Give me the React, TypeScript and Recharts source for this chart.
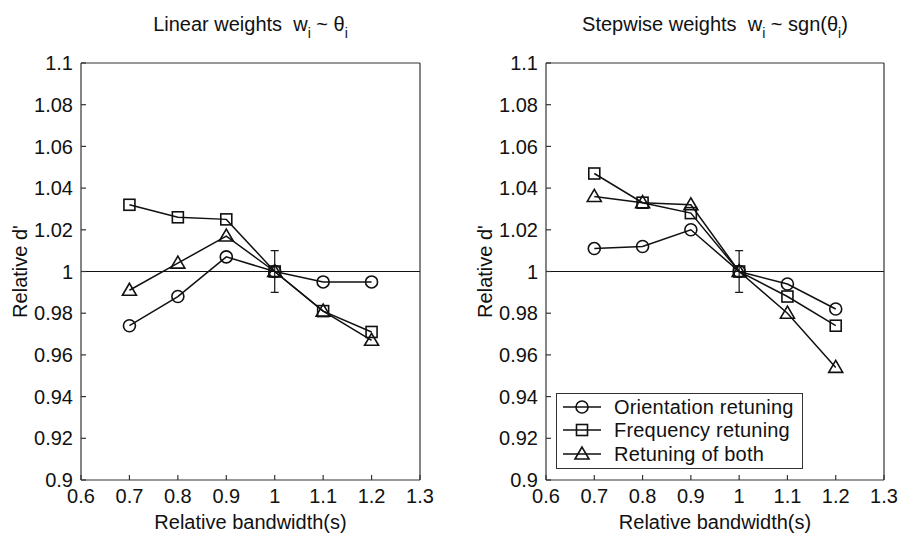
import { ComposedChart, Line, Scatter, ErrorBar, XAxis, YAxis, ReferenceLine, Legend } from "recharts";

const bandwidths = [0.7, 0.8, 0.9, 1.0, 1.1, 1.2];

const linearOrientation = [0.974, 0.988, 1.007, 1.0, 0.995, 0.995];
const linearFrequency = [1.032, 1.026, 1.025, 1.0, 0.981, 0.971];
const linearBoth = [0.991, 1.004, 1.017, 1.0, 0.981, 0.967];

const stepOrientation = [1.011, 1.012, 1.02, 1.0, 0.994, 0.982];
const stepFrequency = [1.047, 1.033, 1.028, 1.0, 0.988, 0.974];
const stepBoth = [1.036, 1.033, 1.032, 1.0, 0.98, 0.954];

const xTicks = [0.6, 0.7, 0.8, 0.9, 1, 1.1, 1.2, 1.3];
const yTicks = [0.9, 0.92, 0.94, 0.96, 0.98, 1, 1.02, 1.04, 1.06, 1.08, 1.1];

const errorPoint = [{ bw: 1, d: 1, err: 0.01 }];

const seriesNames = ["Orientation retuning", "Frequency retuning", "Retuning of both"];
const seriesKeys = ["orient", "freq", "both"];

const FONT = '"Liberation Sans", Arial, Helvetica, sans-serif';
const INK = "#111";
const AXIS = "#333";

const buildRows = (orient: number[], freq: number[], both: number[]) =>
  bandwidths.map((bw, i) => ({ bw, orient: orient[i], freq: freq[i], both: both[i] }));

function Marker({ kind, cx, cy }: { kind: string; cx: number; cy: number }) {
  if (cx == null || cy == null) return <g />;
  if (kind === "orient") {
    return <circle cx={cx} cy={cy} r={6} fill="none" stroke={INK} strokeWidth={1.6} />;
  }
  if (kind === "freq") {
    return <rect x={cx - 5.5} y={cy - 5.5} width={11} height={11} fill="none" stroke={INK} strokeWidth={1.6} />;
  }
  return (
    <polygon
      points={`${cx},${cy - 7} ${cx - 7},${cy + 5} ${cx + 7},${cy + 5}`}
      fill="none"
      stroke={INK}
      strokeWidth={1.6}
    />
  );
}

function LegendBox() {
  return (
    <div
      style={{
        border: `1px solid ${AXIS}`,
        background: "#fff",
        width: 245,
        height: 73,
        boxSizing: "content-box",
        fontFamily: FONT,
        fontSize: 20,
        color: INK,
        paddingTop: 1,
      }}
    >
      {seriesNames.map((name, i) => (
        <div key={name} style={{ display: "flex", alignItems: "center", height: 23.5 }}>
          <svg width={50} height={22} style={{ marginLeft: 4 }}>
            <line x1={2} y1={11} x2={40} y2={11} stroke={INK} strokeWidth={1.4} />
            <Marker kind={seriesKeys[i]} cx={21} cy={11} />
          </svg>
          <span style={{ marginLeft: 3, lineHeight: "22px", letterSpacing: 0.2 }}>{name}</span>
        </div>
      ))}
    </div>
  );
}

function Panel({
  left,
  width,
  margin,
  rows,
  title,
  showLegend,
}: {
  left: number;
  width: number;
  margin: { top: number; right: number; bottom: number; left: number };
  rows: { bw: number; orient: number; freq: number; both: number }[];
  title: React.ReactNode;
  showLegend?: boolean;
}) {
  const tickStyle = { fontSize: 20, fill: INK, fontFamily: FONT };
  return (
    <div style={{ position: "absolute", left, top: 0 }}>
      <ComposedChart width={width} height={534} data={rows} margin={margin}>
        <XAxis
          type="number"
          dataKey="bw"
          domain={[0.6, 1.3]}
          ticks={xTicks}
          tickFormatter={(v) => String(v)}
          height={50}
          tickSize={-5}
          tickMargin={14}
          stroke={AXIS}
          strokeWidth={1.2}
          tick={tickStyle}
          interval={0}
          label={{
            content: ({ viewBox }: any) => (
              <text
                x={viewBox.x + viewBox.width / 2}
                y={viewBox.y + 49}
                textAnchor="middle"
                fontSize={20}
                fontFamily={FONT}
                fill={INK}
              >
                Relative bandwidth(s)
              </text>
            ),
          }}
        />
        <XAxis
          xAxisId="top"
          orientation="top"
          type="number"
          dataKey="bw"
          domain={[0.6, 1.3]}
          ticks={xTicks}
          height={1}
          tickSize={-5}
          tick={false}
          stroke={AXIS}
          strokeWidth={1.2}
          interval={0}
          label={{
            content: ({ viewBox }: any) => (
              <text
                x={viewBox.x + viewBox.width / 2}
                y={viewBox.y - 31}
                textAnchor="middle"
                fontSize={20}
                fontFamily={FONT}
                fill={INK}
                style={{ whiteSpace: "pre" }}
              >
                {title}
              </text>
            ),
          }}
        />
        <YAxis
          type="number"
          domain={[0.9, 1.1]}
          ticks={yTicks}
          tickFormatter={(v) => String(v)}
          width={60}
          tickSize={-5}
          tickMargin={13}
          stroke={AXIS}
          strokeWidth={1.2}
          tick={tickStyle}
          interval={0}
          label={{
            content: ({ viewBox }: any) => {
              const cx = viewBox.x - 1;
              const cy = viewBox.y + viewBox.height / 2;
              return (
                <text
                  x={cx}
                  y={cy}
                  transform={`rotate(-90, ${cx}, ${cy})`}
                  textAnchor="middle"
                  dominantBaseline="central"
                  fontSize={20}
                  fontFamily={FONT}
                  fill={INK}
                >
                  Relative d'
                </text>
              );
            },
          }}
        />
        <YAxis
          yAxisId="right"
          orientation="right"
          type="number"
          domain={[0.9, 1.1]}
          ticks={yTicks}
          width={1}
          tickSize={-5}
          tick={false}
          stroke={AXIS}
          strokeWidth={1.2}
          interval={0}
        />
        <ReferenceLine y={1} stroke={INK} strokeWidth={1.1} />
        {seriesKeys.map((key, i) => (
          <Line
            key={key}
            dataKey={key}
            name={seriesNames[i]}
            stroke={INK}
            strokeWidth={1.5}
            isAnimationActive={false}
            dot={(p: any) => <Marker key={`${key}-${p.index}`} kind={key} cx={p.cx} cy={p.cy} />}
            activeDot={false}
          />
        ))}
        <Scatter
          data={errorPoint}
          dataKey="d"
          legendType="none"
          isAnimationActive={false}
          shape={() => <g />}
        >
          <ErrorBar dataKey="err" direction="y" width={4} stroke={INK} strokeWidth={1.2} />
        </Scatter>
        {showLegend && (
          <Legend
            layout="vertical"
            align="center"
            verticalAlign="middle"
            wrapperStyle={{ left: 106, top: 393, width: 247 }}
            content={() => <LegendBox />}
          />
        )}
      </ComposedChart>
    </div>
  );
}

// subscripts sit a bit lower than usual in the original figure
const leftTitle = (
  <>
    <tspan>Linear weights  w</tspan>
    <tspan dy={7} fontSize={14}>i</tspan>
    <tspan dy={-7}> ~ θ</tspan>
    <tspan dy={7} fontSize={14}>i</tspan>
  </>
);

const rightTitle = (
  <>
    <tspan>Stepwise weights  w</tspan>
    <tspan dy={7} fontSize={14}>i</tspan>
    <tspan dy={-7}> ~ sgn(θ</tspan>
    <tspan dy={7} fontSize={14}>i</tspan>
    <tspan dy={-7}>)</tspan>
  </>
);

export default function App() {
  return (
    <div style={{ position: "absolute", left: 0, top: 0, width: 901, height: 534, background: "#fff" }}>
      <Panel
        left={0}
        width={450}
        margin={{ top: 62, right: 29, bottom: 4, left: 21 }}
        rows={buildRows(linearOrientation, linearFrequency, linearBoth)}
        title={leftTitle}
      />
      <Panel
        left={450}
        width={451}
        margin={{ top: 62, right: 16, bottom: 4, left: 36 }}
        rows={buildRows(stepOrientation, stepFrequency, stepBoth)}
        title={rightTitle}
        showLegend
      />
    </div>
  );
}
